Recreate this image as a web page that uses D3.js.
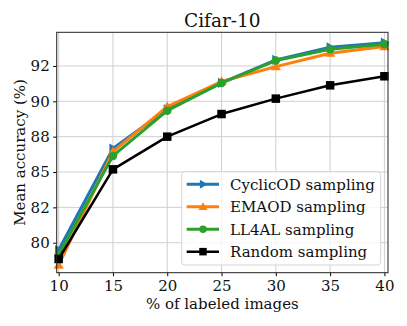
<!DOCTYPE html>
<html>
<head>
<meta charset="utf-8">
<script src="https://cdn.jsdelivr.net/npm/d3@7"></script>
<style>
  body { margin: 0; background: #fff; }
  svg { display: block; font-family: 'DejaVu Serif', serif; }
</style>
</head>
<body>
<svg id="chart" width="407" height="326"></svg>
<script>
const labeled = [10, 15, 20, 25, 30, 35, 40];
const cyclicOD = [79.48, 86.66, 89.44, 91.3, 92.93, 93.82, 94.15];
const emaOD = [78.42, 86.44, 89.62, 91.4, 92.45, 93.4, 93.87];
const ll4al = [79.15, 86.14, 89.34, 91.3, 92.88, 93.68, 94.03];
const randomS = [78.85, 85.19, 87.5, 89.1, 90.19, 91.13, 91.77];

const yTicks = [80, 82.5, 85, 87.5, 90, 92.5];
const yTickLabels = ['80', '82', '85', '88', '90', '92'];
const xTicks = [10, 15, 20, 25, 30, 35, 40];

const series = [
  { name: 'CyclicOD sampling', values: cyclicOD, color: '#1f77b4', marker: 'right', lw: 3 },
  { name: 'EMAOD sampling', values: emaOD, color: '#ff7f0e', marker: 'up', lw: 3 },
  { name: 'LL4AL sampling', values: ll4al, color: '#2ca02c', marker: 'circle', lw: 3 },
  { name: 'Random sampling', values: randomS, color: '#000000', marker: 'square', lw: 2.5 }
];

const svg = d3.select('#chart');
const pLeft = 56.7, pRight = 388, pTop = 32.3, pBottom = 272.7;

const x = d3.scaleLinear().domain([9.82, 40.33]).range([pLeft, pRight]);
const y = d3.scaleLinear().domain([77.88, 94.88]).range([pBottom, pTop]);

// grid
const grid = svg.append('g');
grid.selectAll('.gx').data(xTicks).enter().append('line')
  .attr('x1', d => x(d)).attr('x2', d => x(d))
  .attr('y1', pTop).attr('y2', pBottom)
  .attr('stroke', '#cfcfcf').attr('stroke-width', 1);
grid.selectAll('.gy').data(yTicks).enter().append('line')
  .attr('x1', pLeft).attr('x2', pRight)
  .attr('y1', d => y(d)).attr('y2', d => y(d))
  .attr('stroke', '#cfcfcf').attr('stroke-width', 1);

// axes
const xAxis = d3.axisBottom(x).tickValues(xTicks).tickSize(3.5).tickPadding(4);
const yAxis = d3.axisLeft(y).tickValues(yTicks).tickSize(3.5).tickPadding(3.5)
  .tickFormat((d, i) => yTickLabels[i]);

svg.append('g').attr('transform', `translate(0,${pBottom})`).call(xAxis)
  .call(g => g.select('.domain').remove())
  .call(g => g.selectAll('text').attr('font-size', 15).attr('font-family', 'DejaVu Serif').attr('fill', '#111'));
svg.append('g').attr('transform', `translate(${pLeft},0)`).call(yAxis)
  .call(g => g.select('.domain').remove())
  .call(g => g.selectAll('text').attr('font-size', 15).attr('font-family', 'DejaVu Serif').attr('fill', '#111'));

// lines and markers
const line = d3.line().x((d, i) => x(labeled[i])).y(d => y(d));

function drawMarker(g, type, color, s) {
  if (type === 'circle') {
    g.append('circle').attr('r', s / 2).attr('fill', color);
  } else if (type === 'square') {
    g.append('rect').attr('x', -s / 2).attr('y', -s / 2).attr('width', s).attr('height', s).attr('fill', color);
  } else if (type === 'up') {
    const h = s * 0.6;
    g.append('path').attr('d', `M0,${-h} L${h},${h * 0.7} L${-h},${h * 0.7}Z`).attr('fill', color);
  } else {
    const h = s * 0.6;
    g.append('path').attr('d', `M${h},0 L${-h * 0.7},${h} L${-h * 0.7},${-h}Z`).attr('fill', color);
  }
}

series.forEach(s => {
  svg.append('path').datum(s.values)
    .attr('d', line)
    .attr('fill', 'none')
    .attr('stroke', s.color)
    .attr('stroke-width', s.lw)
    .attr('stroke-linejoin', 'round');
  s.values.forEach((v, i) => {
    const g = svg.append('g').attr('transform', `translate(${x(labeled[i])},${y(v)})`);
    drawMarker(g, s.marker, s.color, 8.5);
  });
});

// spines
svg.append('rect')
  .attr('x', pLeft).attr('y', pTop)
  .attr('width', pRight - pLeft).attr('height', pBottom - pTop)
  .attr('fill', 'none').attr('stroke', '#222').attr('stroke-width', 1);

// legend
const leg = svg.append('g');
leg.append('rect')
  .attr('x', 181.7).attr('y', 171.7).attr('width', 199).attr('height', 93.3)
  .attr('rx', 3).attr('fill', '#fff').attr('fill-opacity', 0.8)
  .attr('stroke', '#d6d6d6').attr('stroke-width', 1);
series.forEach((s, i) => {
  const cy = 184.3 + i * 22.45;
  leg.append('line').attr('x1', 186.7).attr('x2', 219)
    .attr('y1', cy).attr('y2', cy)
    .attr('stroke', s.color).attr('stroke-width', s.lw);
  const g = leg.append('g').attr('transform', `translate(203,${cy})`);
  drawMarker(g, s.marker, s.color, 7.5);
  leg.append('text').attr('x', 230).attr('y', cy + 5.3)
    .attr('font-size', 15).attr('fill', '#111').text(s.name);
});

// labels
svg.append('text').attr('x', (pLeft + pRight) / 2).attr('y', 27)
  .attr('text-anchor', 'middle').attr('font-size', 18.5).attr('fill', '#111').text('Cifar-10');
svg.append('text').attr('x', (pLeft + pRight) / 2).attr('y', 309)
  .attr('text-anchor', 'middle').attr('font-size', 15).attr('fill', '#111').text('% of labeled images');
svg.append('text').attr('transform', `translate(25,${(pTop + pBottom) / 2}) rotate(-90)`)
  .attr('text-anchor', 'middle').attr('font-size', 15).attr('fill', '#111').text('Mean accuracy (%)');
</script>
</body>
</html>
